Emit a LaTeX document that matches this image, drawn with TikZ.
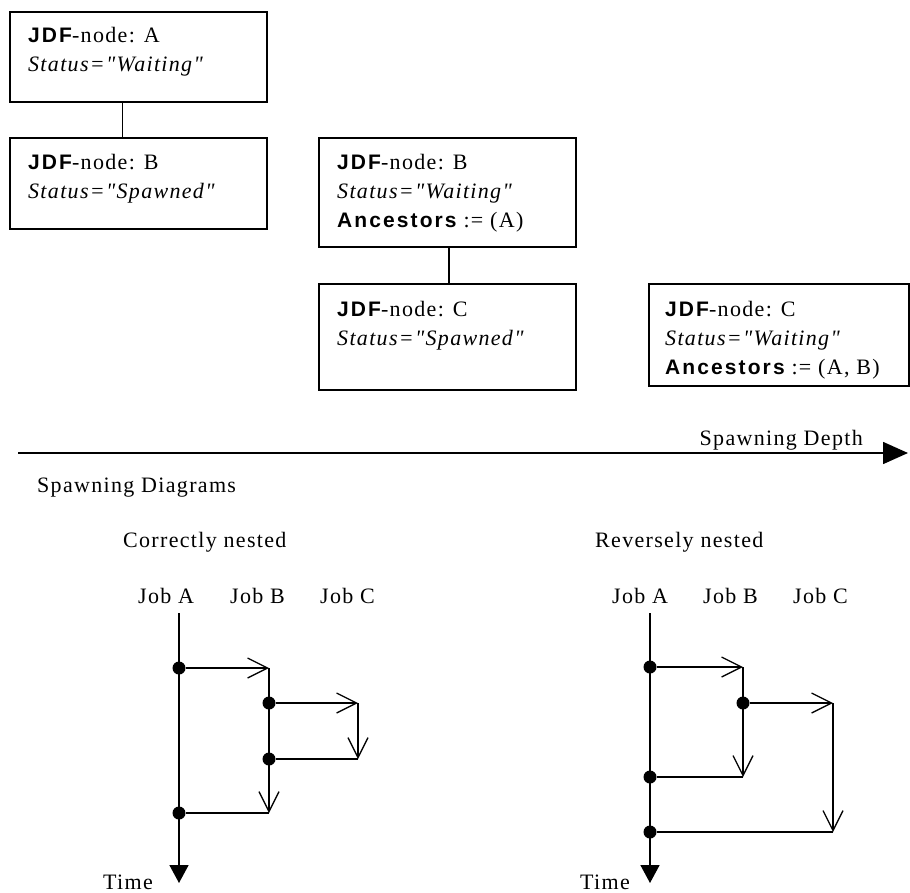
\documentclass[tikz,border=0pt]{standalone}
\usepackage{fontspec}
\setmainfont{Liberation Serif}[LetterSpace=6, Ligatures=TeXOff]
\setsansfont{Liberation Sans}[LetterSpace=10]
\usepackage{tikz}
\usetikzlibrary{arrows.meta, positioning, calc}
\newcommand{\jdfnode}[1]{{\sffamily\bfseries\fontsize{21}{29}\selectfont JDF}-node: #1}
\newcommand{\jdfstatus}[1]{\textit{Status="#1"}}
\newcommand{\jdfanc}[1]{{\sffamily\bfseries\fontsize{21}{29}\selectfont Ancestors} := (#1)}
\tikzset{
  jdfbox/.style={
    draw, line width=1.5pt, anchor=north west,
    inner sep=0pt, minimum width=257pt
  },
  jdftext/.style={anchor=north west, align=left, inner sep=0pt},
  plainlabel/.style={anchor=base west, inner sep=0pt},
  depthaxis/.style={line width=1.6pt, -{Triangle[length=25pt,width=22pt]}},
  timeline/.style={line width=1.6pt, -{Triangle[length=18pt,width=19pt]}},
  spawn/.style={line width=1.6pt, -{Straight Barb[length=20pt,width=20pt,line width=1.3pt]}},
  goback/.style={line width=1.6pt},
  evdot/.style={circle, fill, inner sep=0pt, minimum size=13pt},
}

\begin{document}
\begin{tikzpicture}[x=1pt, y=-1pt, font=\fontsize{22}{29}\selectfont]
  \useasboundingbox (0,0) rectangle (910,892);

  % JDF nodes, by spawning depth
  \node[jdfbox, minimum height=90pt] (boxA) at (9,11) {};
  \node[jdfbox, minimum height=91pt] (boxB) at (9,137) {};
  \node[jdfbox, minimum height=109pt] (boxB2) at (318,137) {};
  \node[jdfbox, minimum height=106pt] (boxC) at (318,283) {};
  \node[jdfbox, minimum height=102pt, minimum width=260pt] (boxC2) at (648,283) {};

  \node[jdftext] (txtA) at ([shift={(19pt,-16pt)}]boxA.north west) {\jdfnode{A}\\\jdfstatus{Waiting}};
  \node[jdftext] (txtB) at ([shift={(19pt,-17pt)}]boxB.north west) {\jdfnode{B}\\\jdfstatus{Spawned}};
  \node[jdftext] (txtB2) at ([shift={(19pt,-17pt)}]boxB2.north west) {\jdfnode{B}\\\jdfstatus{Waiting}\\\jdfanc{A}};
  \node[jdftext] (txtC) at ([shift={(19pt,-18pt)}]boxC.north west) {\jdfnode{C}\\\jdfstatus{Spawned}};
  \node[jdftext] (txtC2) at ([shift={(17pt,-18pt)}]boxC2.north west) {\jdfnode{C}\\\jdfstatus{Waiting}\\\jdfanc{A, B}};

  \draw[line width=1.5pt] ([xshift=-16pt]boxA.south) -- ([xshift=-16pt]boxB.north);
  \draw[line width=1.5pt] ([xshift=1.5pt]boxB2.south) -- ([xshift=1.5pt]boxC.north);

  % depth axis
  \coordinate (dstart) at (18,453);
  \coordinate (dend) at (908,453);
  \draw[depthaxis] (dstart) -- (dend);
  \node[anchor=base east, inner sep=0pt] (depthlbl) at (863,445) {Spawning Depth};

  \node[plainlabel] (diagtitle) at (37,492) {Spawning Diagrams};
  \node[plainlabel] (oktitle) at (123,547) {Correctly nested};
  \node[plainlabel] (revtitle) at (595,547) {Reversely nested};

  % correctly nested
  \foreach \j/\xx in {A/138, B/230, C/320}
    \node[plainlabel] (ljob\j) at (\xx,603) {Job \j};
  \coordinate (la0) at (179,613);
  \coordinate (laT) at (179,883);
  \node[evdot] (la1) at (179,668) {};
  \node[evdot] (la2) at (179,813) {};
  \coordinate (lb0) at (269,668);
  \node[evdot] (lb1) at (269,703) {};
  \node[evdot] (lb2) at (269,759) {};
  \coordinate (lbE) at (269,813);
  \coordinate (lc0) at (358,703);
  \coordinate (lcE) at (358,759);
  \draw[timeline] (la0) -- (laT);
  \draw[spawn] (la1) -- (lb0);
  \draw[spawn] (lb0) -- (lbE);
  \draw[spawn] (lb1) -- (lc0);
  \draw[spawn] (lc0) -- (lcE);
  \draw[goback] (lcE) -- (lb2);
  \draw[goback] (lbE) -- (la2);
  \node[plainlabel] (ltime) at (103,889) {Time};

  % reversely nested
  \foreach \j/\xx in {A/612, B/703, C/793}
    \node[plainlabel] (rjob\j) at (\xx,603) {Job \j};
  \coordinate (ra0) at (650,613);
  \coordinate (raT) at (650,883);
  \node[evdot] (ra1) at (650,667) {};
  \node[evdot] (ra2) at (650,777) {};
  \node[evdot] (ra3) at (650,832) {};
  \coordinate (rb0) at (743,667);
  \node[evdot] (rb1) at (743,703) {};
  \coordinate (rbE) at (743,777);
  \coordinate (rc0) at (833,703);
  \coordinate (rcE) at (833,832);
  \draw[timeline] (ra0) -- (raT);
  \draw[spawn] (ra1) -- (rb0);
  \draw[spawn] (rb0) -- (rbE);
  \draw[spawn] (rb1) -- (rc0);
  \draw[spawn] (rc0) -- (rcE);
  \draw[goback] (rbE) -- (ra2);
  \draw[goback] (rcE) -- (ra3);
  \node[plainlabel] (rtime) at (580,889) {Time};
\end{tikzpicture}
\end{document}
